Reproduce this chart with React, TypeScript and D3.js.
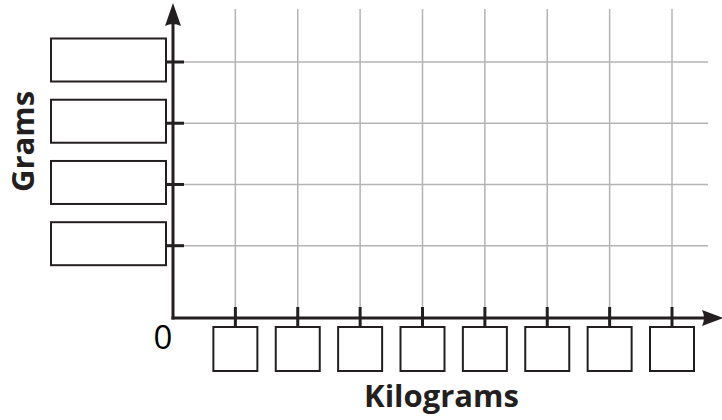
import React, { useEffect, useRef } from 'react';
import * as d3 from 'd3';

// blank worksheet graph: tick slots along each axis, labels left as empty boxes
const xTicks = [1, 2, 3, 4, 5, 6, 7, 8];
const yTicks = [1, 2, 3, 4];
const xTitle = 'Kilograms';
const yTitle = 'Grams';
const originLabel = '0';

const INK = '#231f20';
const GRID = '#b3b3b3';
const FONT = "'Open Sans', 'Liberation Sans', sans-serif";

const App: React.FC = () => {
  const svgRef = useRef<SVGSVGElement>(null);

  useEffect(() => {
    if (!svgRef.current) return;

    const width = 722;
    const height = 420;
    const originX = 173;
    const originY = 318;

    d3.select(svgRef.current).selectAll('*').remove();

    const svg = d3.select(svgRef.current)
      .attr('width', width)
      .attr('height', height);

    svg.append('rect')
      .attr('width', width)
      .attr('height', height)
      .attr('fill', '#fff');

    const x = d3.scaleLinear()
      .domain([0, 8])
      .range([originX, 672]);

    const y = d3.scaleLinear()
      .domain([1, 4])
      .range([245.7, 62]);

    // grid
    svg.append('g')
      .selectAll('line')
      .data(xTicks)
      .enter()
      .append('line')
      .attr('x1', d => x(d))
      .attr('x2', d => x(d))
      .attr('y1', 9)
      .attr('y2', originY)
      .attr('stroke', GRID)
      .attr('stroke-width', 1.5);

    svg.append('g')
      .selectAll('line')
      .data(yTicks)
      .enter()
      .append('line')
      .attr('x1', originX)
      .attr('x2', 708)
      .attr('y1', d => y(d))
      .attr('y2', d => y(d))
      .attr('stroke', GRID)
      .attr('stroke-width', 1.5);

    // axes
    svg.append('line')
      .attr('x1', originX)
      .attr('x2', originX)
      .attr('y1', originY + 1.5)
      .attr('y2', 20)
      .attr('stroke', INK)
      .attr('stroke-width', 3);

    svg.append('line')
      .attr('x1', originX - 1.5)
      .attr('x2', 710)
      .attr('y1', originY)
      .attr('y2', originY)
      .attr('stroke', INK)
      .attr('stroke-width', 3);

    svg.append('path')
      .attr('d', `M${originX},3 L${originX + 8},26 Q${originX},22 ${originX - 8},26 Z`)
      .attr('fill', INK);

    svg.append('path')
      .attr('d', `M723,${originY} L702,${originY - 8} Q706,${originY} 702,${originY + 8} Z`)
      .attr('fill', INK);

    // ticks
    svg.append('g')
      .selectAll('line')
      .data(xTicks)
      .enter()
      .append('line')
      .attr('x1', d => x(d))
      .attr('x2', d => x(d))
      .attr('y1', 307)
      .attr('y2', 327)
      .attr('stroke', INK)
      .attr('stroke-width', 3);

    svg.append('g')
      .selectAll('line')
      .data(yTicks)
      .enter()
      .append('line')
      .attr('x1', 166)
      .attr('x2', 184)
      .attr('y1', d => y(d))
      .attr('y2', d => y(d))
      .attr('stroke', INK)
      .attr('stroke-width', 3);

    // empty label boxes
    svg.append('g')
      .selectAll('rect')
      .data(xTicks)
      .enter()
      .append('rect')
      .attr('x', d => x(d) - 22)
      .attr('y', 327)
      .attr('width', 44)
      .attr('height', 44)
      .attr('fill', '#fff')
      .attr('stroke', INK)
      .attr('stroke-width', 2);

    svg.append('g')
      .selectAll('rect')
      .data(yTicks)
      .enter()
      .append('rect')
      .attr('x', 51)
      .attr('y', d => y(d) - 23.5)
      .attr('width', 115)
      .attr('height', 43)
      .attr('fill', '#fff')
      .attr('stroke', INK)
      .attr('stroke-width', 2);

    // text
    svg.append('text')
      .attr('x', 163)
      .attr('y', 349)
      .attr('text-anchor', 'middle')
      .style('font-family', FONT)
      .style('font-size', '33px')
      .attr('fill', '#000')
      .text(originLabel);

    svg.append('text')
      .attr('x', 441.5)
      .attr('y', 407)
      .attr('text-anchor', 'middle')
      .style('font-family', FONT)
      .style('font-weight', 'bold')
      .style('font-size', '31px')
      .attr('fill', INK)
      .text(xTitle);

    svg.append('text')
      .attr('transform', 'translate(34,141.5) rotate(-90)')
      .attr('text-anchor', 'middle')
      .style('font-family', FONT)
      .style('font-weight', 'bold')
      .style('font-size', '31px')
      .attr('fill', INK)
      .text(yTitle);
  }, []);

  return (
    <div style={{ position: 'absolute', left: 0, top: 0 }}>
      <svg ref={svgRef} style={{ display: 'block' }} />
    </div>
  );
};

export default App;
